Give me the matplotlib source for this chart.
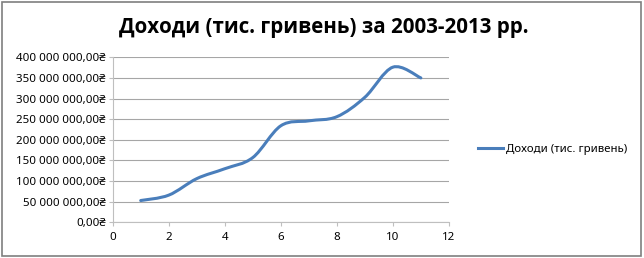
import matplotlib.pyplot as plt
import numpy as np
from matplotlib.path import Path
from matplotlib.patches import PathPatch, Rectangle
from matplotlib.lines import Line2D
from matplotlib.ticker import FuncFormatter

plt.rcParams['font.family'] = ['Noto Sans', 'DejaVu Sans']

years = [1, 2, 3, 4, 5, 6, 7, 8, 9, 10, 11]
income = [53e6, 66e6, 106e6, 130e6, 157e6, 234e6, 246e6, 256e6, 303e6, 376e6, 350e6]
series_name = 'Доходи (тис. гривень)'
title = 'Доходи (тис. гривень) за 2003-2013 рр.'


def money(v, pos):
    s = f'{v:,.2f}'.replace(',', ' ').replace('.', ',')
    return s + '₴'


def smooth_path(x, y):
    # Excel-like smoothed line: cubic bezier through the points
    x = np.asarray(x, float)
    y = np.asarray(y, float)
    verts = [(x[0], y[0])]
    codes = [Path.MOVETO]
    n = len(x)
    for i in range(n - 1):
        p0 = max(i - 1, 0)
        p3 = min(i + 2, n - 1)
        c1 = (x[i] + (x[i + 1] - x[p0]) / 6, y[i] + (y[i + 1] - y[p0]) / 6)
        c2 = (x[i + 1] - (x[p3] - x[i]) / 6, y[i + 1] - (y[p3] - y[i]) / 6)
        verts += [c1, c2, (x[i + 1], y[i + 1])]
        codes += [Path.CURVE4] * 3
    return Path(verts, codes)


fig = plt.figure(figsize=(6.44, 2.58), dpi=100)
fig.patches.append(Rectangle((0.003, 0.006), 0.992, 0.988, transform=fig.transFigure,
                             fill=False, edgecolor='#7f7f7f', linewidth=1.2))

ax = fig.add_axes([0.175, 0.138, 0.522, 0.64])
line_color = '#4a7ebb'
ax.add_patch(PathPatch(smooth_path(years, income), facecolor='none',
                       edgecolor=line_color, linewidth=2.2, capstyle='round'))

ax.set_xlim(0, 12)
ax.set_ylim(0, 400e6)
ax.set_xticks(range(0, 13, 2))
ax.set_yticks(np.arange(0, 400e6 + 1, 50e6))
ax.yaxis.set_major_formatter(FuncFormatter(money))
ax.grid(axis='y', color='#a6a6a6', linewidth=0.8)
ax.set_axisbelow(True)
for side in ['top', 'right']:
    ax.spines[side].set_visible(False)
for side in ['left', 'bottom']:
    ax.spines[side].set_color('#bfbfbf')
ax.tick_params(axis='both', labelsize=8.3, color='#bfbfbf', length=3, direction='out', pad=2)
ax.tick_params(axis='x', pad=4)

fig.text(0.502, 0.892, title, ha='center', va='center', fontsize=14.8,
         fontweight='bold', family=['Open Sans', 'DejaVu Sans'])

handle = Line2D([], [], color=line_color, linewidth=2.2)
fig.legend([handle], [series_name], loc='center left', bbox_to_anchor=(0.727, 0.422),
           frameon=False, fontsize=8.2, handlelength=2.2, handletextpad=0.2)

fig.savefig('out.png', dpi=100)
